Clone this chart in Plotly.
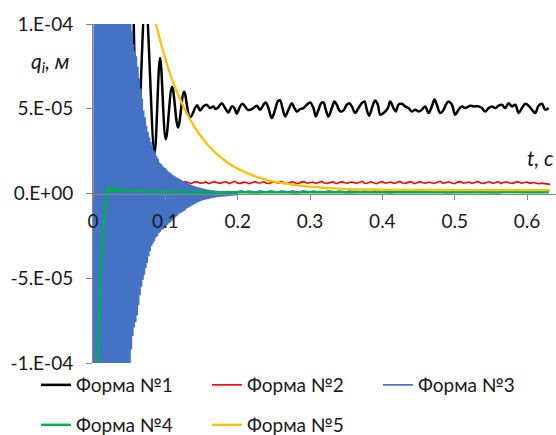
import numpy as np
import plotly.graph_objects as go

SCALE = 1e-6  # values below are in micrometres (1e-6 m)

# ---- Form 1 (black) ----
t1 = [0.000, 0.008, 0.017, 0.026, 0.035, 0.044, 0.053, 0.0615, 0.0725, 0.085, 0.0927, 0.1006,
      0.1093, 0.1176, 0.1259, 0.1342, 0.1438,
      0.1480, 0.1526, 0.1572, 0.1618, 0.1664, 0.1697, 0.1734, 0.1780, 0.1826, 0.1872, 0.1918,
      0.1955, 0.1987, 0.2033, 0.2065, 0.2102, 0.2139, 0.2172, 0.2218, 0.2264, 0.2310, 0.2356,
      0.2388, 0.2425, 0.2471, 0.2517, 0.2554, 0.2586, 0.2619, 0.2656, 0.2702, 0.2748, 0.2785,
      0.2817, 0.2863, 0.2909, 0.2955, 0.3001, 0.3047, 0.3080, 0.3117, 0.3154, 0.3186, 0.3218,
      0.3255, 0.3301, 0.3338, 0.3370, 0.3416, 0.3462, 0.3509, 0.3541, 0.3578, 0.3624, 0.3670,
      0.3716, 0.3753, 0.3785, 0.3817, 0.3863, 0.3900, 0.3937, 0.3970, 0.4016, 0.4076, 0.4108,
      0.4154, 0.4186, 0.4223, 0.4269, 0.4315, 0.4361, 0.4408, 0.4454, 0.4500, 0.4546, 0.4592,
      0.4638, 0.4684, 0.4721, 0.4753, 0.4799, 0.4846, 0.4878, 0.4915, 0.4961, 0.5007, 0.5053,
      0.5099, 0.5145, 0.5214, 0.5260, 0.5330, 0.5376, 0.5422, 0.5468, 0.5514, 0.5560, 0.5606,
      0.5652, 0.5698, 0.5745, 0.5791, 0.5837, 0.5883, 0.5929, 0.5975, 0.6021, 0.6067, 0.6113,
      0.6159, 0.6205, 0.6252, 0.6298]
q1 = [0, -80, 200, -50, 180, -10, 145, 28, 115, 24, 80, 32,
      63, 39, 60, 45, 52,
      49.0, 51.4, 52.4, 50.4, 51.4, 49.8, 51.0, 53.3, 50.4, 47.8, 51.4,
      50.4, 47.1, 51.4, 52.9, 51.4, 49.4, 49.4, 50.4, 51.8, 49.4, 52.4,
      53.7, 50.4, 44.5, 49.4, 54.3, 54.9, 50.4, 45.5, 49.4, 53.3, 50.4,
      48.4, 49.8, 50.4, 52.4, 53.7, 50.4, 45.5, 49.4, 53.3, 53.7, 49.4,
      45.5, 50.4, 54.3, 52.4, 48.4, 49.0, 52.4, 53.3, 51.4, 47.5, 50.4,
      53.3, 54.3, 49.4, 45.9, 51.4, 54.9, 52.4, 46.5, 47.5, 50.4, 54.3,
      50.4, 48.4, 52.4, 52.9, 51.4, 50.4, 48.4, 49.4, 48.4, 49.4, 51.4,
      47.5, 51.4, 55.5, 52.4, 47.5, 49.4, 52.4, 54.3, 52.4, 46.5, 49.4,
      51.4, 50.4, 51.8, 51.4, 51.4, 50.4, 48.4, 50.4, 51.4, 50.4, 51.8,
      52.4, 50.4, 53.3, 51.4, 52.4, 47.5, 50.4, 52.9, 51.8, 49.4, 47.5,
      51.8, 52.9, 49.4, 50.4]

# ---- Form 2 (red): sampled every 4 ms from 0.06 s ----
t2_start, t2_step = 0.06, 0.004
q2 = [6.8, 5.9, 6.6, 7.0, 6.1, 5.8, 6.5, 6.9, 6.0, 6.4, 7.1, 6.2, 5.7, 6.6, 6.8, 6.0, 6.3, 7.0, 6.4, 5.9,
      6.7, 6.9, 6.1, 6.2, 6.8, 5.8, 6.5, 7.0, 6.3, 6.0, 6.6, 6.9, 5.9, 6.4, 7.2, 6.1, 6.0, 6.7, 6.5, 5.8,
      6.6, 7.0, 6.2, 6.3, 6.9, 6.0, 5.9, 6.8, 6.6, 6.1, 7.1, 6.4, 5.8, 6.5, 6.9, 6.2, 6.0, 6.7, 7.0, 6.1,
      6.3, 6.8, 5.9, 6.6, 7.1, 6.2, 6.0, 6.5, 6.9, 5.8, 6.4, 7.0, 6.3, 6.1, 6.8, 6.6, 5.9, 6.7, 7.2, 6.0,
      6.2, 6.9, 6.4, 5.8, 6.6, 7.0, 6.1, 6.3, 6.8, 5.9, 6.5, 7.1, 6.2, 6.0, 6.7, 6.9, 5.8, 6.4, 7.0, 6.3,
      6.1, 6.8, 6.5, 5.9, 6.6, 7.2, 6.0, 6.3, 6.9, 6.2, 5.8, 6.7, 7.0, 6.1, 6.4, 6.8, 5.9, 6.6, 7.1, 6.2,
      6.0, 6.5, 6.9, 6.1, 6.3, 7.0, 5.9, 6.6, 6.8, 6.2, 6.0, 6.7, 6.9, 6.1, 6.4, 6.8, 6.0, 6.5, 6.2, 5.8,
      6.1, 5.9, 5.6, 5.4]

# ---- Form 3 (blue): transient sampled every 1 ms, then tail every 5 ms ----
t3_step = 0.001
q3_transient = [
    0, -320, 330, -310, 320, -300, 310, -290, 300, -280, 290, -270, 280, -260, 265, -250, 255, -240, 245, -230,
    235, -220, 225, -210, 215, -200, 205, -195, 198, -188, 190, -180, 183, -173, 176, -166, 169, -160, 162, -153,
    155, -146, 148, -139, 141, -132, 134, -125, 127, -118, 118, -104, 106, -92, 96, -84, 88, -79, 84, -76,
    81, -72, 75, -66, 68, -60, 62, -55, 56, -51, 49, -48, 45, -44, 40, -41, 36.5, -37, 33, -34,
    30.5, -31, 28, -29.5, 25.5, -28, 24, -26, 22, -25, 20.5, -23.5, 18.5, -22.5, 17.5, -21.5, 16.5, -21, 15.5, -20,
    15, -19, 14, -18.5, 13, -17.5, 12.5, -17, 11.8, -16, 11, -15, 10.5, -14.5, 10, -13.5, 9.5, -13, 9, -12,
    8.5, -11.5, 8, -11, 7.5, -10.5, 7, -10, 6.6, -9, 6.2, -8.5, 5.8, -8, 5.4, -7.5, 5, -7, 4.7, -6.6,
    4.4, -6.1, 4.1, -5.6, 3.8, -5.2, 3.6, -4.8, 3.3, -4.4, 3.1, -4.1, 2.9, -3.8, 2.7, -3.6, 2.5, -3.4, 2.3, -3.2,
    2.2, -3.0, 2.0, -2.8, 1.9, -2.6, 1.8, -2.5, 1.7, -2.3, 1.6, -2.2, 1.5, -2.1, 1.45, -2.0, 1.4, -1.9, 1.35, -1.8,
    1.3, -1.75, 1.25, -1.7, 1.2, -1.6, 1.15, -1.5, 1.1, -1.4, 1.05, -1.3, 1.0, -1.2, 1.0, -1.1, 0.95, -1.0, 0.9, -0.9]
t3_tail_start, t3_tail_step = 0.200, 0.005
q3_tail = [1.0, 1.5, 0.8, 1.4, 1.1, 0.7, 1.5, 1.2, 0.9, 1.6, 1.0, 0.8, 1.4, 1.3, 0.7, 1.5, 1.1, 0.9, 1.6, 1.2,
           0.8, 1.4, 1.0, 1.3, 0.7, 1.5, 1.2, 0.9, 1.4, 1.0, 0.8, 1.5, 1.1, 1.3, 0.7, 1.4, 1.2, 0.9, 1.5, 1.0,
           0.8, 1.3, 1.1, 1.4, 0.9, 1.2, 1.0, 1.3, 0.8, 1.1, 1.2, 0.9, 1.3, 1.0, 0.8, 1.2, 1.1, 0.9, 1.3, 1.0,
           0.9, 1.2, 1.0, 0.8, 1.1, 1.2, 0.9, 1.0, 1.1, 0.8, 1.2, 1.0, 0.9, 1.1, 1.0, 0.8, 1.1, 1.0, 0.9, 1.1,
           1.0, 0.9, 1.0, 1.1, 0.9, 1.0, 1.0]

# ---- Form 4 (green) ----
t4_head = [0.000, 0.004, 0.0065, 0.0097, 0.012, 0.0138, 0.0166, 0.019, 0.021, 0.023, 0.025, 0.027,
           0.029, 0.031, 0.033, 0.035, 0.037, 0.040, 0.043, 0.046, 0.050, 0.055, 0.060, 0.070,
           0.080, 0.090, 0.100, 0.110, 0.120, 0.130]
q4_head = [-400, -200, -100, -56, -35, -22, -9, 1.5, 3.4, 1.0, 3.1, 1.2,
           2.8, 1.3, 2.5, 1.4, 2.3, 1.6, 2.1, 1.7, 1.8, 1.6, 1.5, 1.3,
           1.2, 1.1, 1.0, 0.9, 0.9, 0.8]
t4_tail_start, t4_tail_step = 0.14, 0.01
q4_tail = [0.8, 0.7, 0.9, 0.6, 0.8, 0.9, 0.7, 0.8, 0.6, 0.9, 0.8, 0.7, 0.9, 0.7, 0.6, 0.8, 0.9, 0.7, 0.8, 0.7,
           0.9, 0.6, 0.8, 0.8, 0.7, 0.9, 0.7, 0.6, 0.8, 0.9, 0.7, 0.8, 0.7, 0.9, 0.8, 0.6, 0.8, 0.7, 0.9, 0.8,
           0.7, 0.8, 0.6, 0.9, 0.7, 0.8, 0.7, 0.9, 0.8, 0.7]

# ---- Form 5 (yellow) ----
t5 = [0.06, 0.07, 0.08, 0.09, 0.10, 0.11, 0.12, 0.13, 0.14, 0.15, 0.16, 0.17, 0.18, 0.19, 0.20,
      0.22, 0.24, 0.26, 0.28, 0.30, 0.32, 0.35, 0.40, 0.45, 0.50, 0.55, 0.60, 0.632]
q5 = [163, 136, 113.5, 95, 79.5, 66.5, 56, 47, 39.5, 33.3, 28, 23.8, 20.2, 17.1, 14.6,
      10.8, 8.1, 6.2, 5.0, 4.0, 3.4, 2.6, 2.3, 2.1, 2.05, 2.0, 2.0, 2.0]

series_names = ["Форма №1", "Форма №2", "Форма №3", "Форма №4", "Форма №5"]
series_colors = ["#000000", "#FF0000", "#4472C4", "#00B050", "#FFC000"]

x_ticks = [0, 0.1, 0.2, 0.3, 0.4, 0.5, 0.6]
x_ticktext = ["0", "0.1", "0.2", "0.3", "0.4", "0.5", "0.6"]
y_ticks = [1e-4, 5e-5, 0, -5e-5, -1e-4]
y_ticktext = ["1.E-04", "5.E-05", "0.E+00", "-5.E-05", "-1.E-04"]

# ---- assemble arrays ----
t2 = t2_start + t2_step * np.arange(len(q2))
t3 = np.concatenate([t3_step * np.arange(len(q3_transient)),
                     t3_tail_start + t3_tail_step * np.arange(len(q3_tail))])
q3 = list(q3_transient) + list(q3_tail)
t4 = np.concatenate([t4_head, t4_tail_start + t4_tail_step * np.arange(len(q4_tail))])
q4 = list(q4_head) + list(q4_tail)

xs = [t1, t2, t3, t4, t5]
ys = [q1, q2, q3, q4, q5]
widths = [2.5, 1.6, 1.7, 2.5, 2.3]
shapes_ = ["spline", "linear", "linear", "linear", "spline"]
legends = ["legend", "legend", "legend", "legend2", "legend2"]

FONT = "Lato, 'Noto Sans', sans-serif"
TXT = "#1a1a1a"

# plot area in pixels: left 93, right 556, top 24, bottom 363
PL, PR, PT, PB = 93, 556, 24, 363
def px_x(px):
    return (px - PL) / (PR - PL)
def px_y(py):
    return (PB - py) / (PB - PT)

fig = go.Figure()
for i in range(5):
    fig.add_trace(go.Scatter(
        x=xs[i], y=np.array(ys[i], dtype=float) * SCALE, mode="lines",
        name=series_names[i], legend=legends[i],
        line=dict(color=series_colors[i], width=widths[i], shape=shapes_[i]),
        cliponaxis=True))

legend_common = dict(orientation="h", xref="paper", yref="paper",
                     xanchor="left", yanchor="middle",
                     entrywidth=126, entrywidthmode="pixels", itemwidth=30,
                     font=dict(family=FONT, size=19, color=TXT),
                     bgcolor="rgba(0,0,0,0)")

fig.update_layout(
    width=556, height=435,
    margin=dict(l=PL, r=556 - PR, t=PT, b=435 - PB, autoexpand=False),
    paper_bgcolor="white", plot_bgcolor="white",
    font=dict(family=FONT, size=18, color=TXT),
    showlegend=True,
    legend=dict(legend_common, x=px_x(36), y=px_y(385)),
    legend2=dict(legend_common, x=px_x(36), y=px_y(425)),
    xaxis=dict(range=[0, 0.64], tickvals=x_ticks, ticktext=x_ticktext,
               showline=True, linecolor="#868686", linewidth=1,
               ticks="outside", ticklen=5, tickcolor="#868686",
               showgrid=False, zeroline=False, anchor="free", position=0.5,
               automargin=False, ticklabelstandoff=6,
               tickfont=dict(family=FONT, size=19, color=TXT)),
    yaxis=dict(range=[-1e-4, 1e-4], tickvals=y_ticks, ticktext=y_ticktext,
               showline=True, linecolor="#868686", linewidth=1,
               ticks="outside", ticklen=6, tickcolor="#868686",
               showgrid=False, zeroline=False, automargin=False,
               ticklabelstandoff=9,
               tickfont=dict(family=FONT, size=19, color=TXT)),
    annotations=[
        dict(text="<i>q</i><sub><i>i</i></sub><i>, м</i>", xref="paper", yref="paper",
             x=px_x(71), y=px_y(62), xanchor="right", yanchor="middle", showarrow=False,
             font=dict(family=FONT, size=21, color=TXT)),
        dict(text="<i>t, с</i>", xref="paper", yref="paper",
             x=px_x(540), y=px_y(157), xanchor="center", yanchor="middle", showarrow=False,
             font=dict(family=FONT, size=21, color=TXT)),
    ],
)

fig.write_html("out.html")
